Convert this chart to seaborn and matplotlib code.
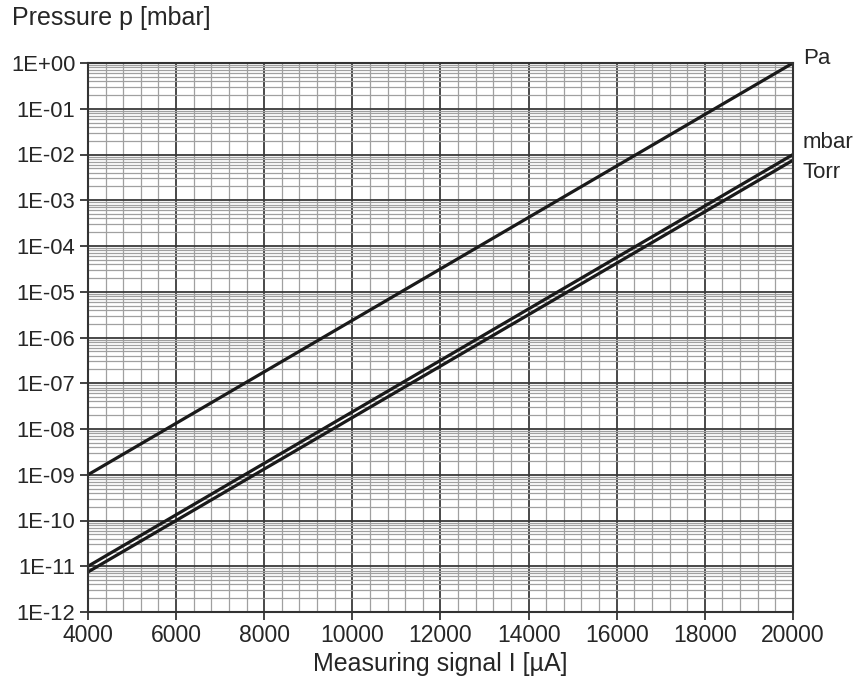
import matplotlib
matplotlib.use("Agg")
import matplotlib.pyplot as plt
import matplotlib.ticker as mticker
import numpy as np
import pandas as pd
import seaborn as sns

# Data
signal = [4000, 20000]
pa_values = [1e-9, 1e0]
mbar_values = [1e-11, 1e-2]
torr_values = [7.5e-12, 7.5e-3]
series_names = ["Pa", "mbar", "Torr"]
x_ticks = [4000, 6000, 8000, 10000, 12000, 14000, 16000, 18000, 20000]
y_tick_labels = ["1E-12", "1E-11", "1E-10", "1E-09", "1E-08", "1E-07", "1E-06",
                 "1E-05", "1E-04", "1E-03", "1E-02", "1E-01", "1E+00"]

df = pd.DataFrame({
    "signal": signal * 3,
    "pressure": pa_values + mbar_values + torr_values,
    "unit": [series_names[0]] * 2 + [series_names[1]] * 2 + [series_names[2]] * 2,
})

sns.set_style("white")
plt.rcParams['font.family'] = ['Liberation Sans', 'DejaVu Sans']

fig = plt.figure(figsize=(8.54, 6.8), dpi=100)
ax = fig.add_axes([88 / 854, 1 - 612 / 680, (793 - 88) / 854, (612 - 63) / 680])

ax.set_yscale("log")
ax.set_xlim(4000, 20000)
ax.set_ylim(1e-12, 1e0)

# grid
ax.set_xticks(x_ticks)
ax.xaxis.set_minor_locator(mticker.MultipleLocator(400))
ax.yaxis.set_minor_locator(mticker.LogLocator(base=10, subs=np.arange(2, 10), numticks=200))
ax.yaxis.set_minor_formatter(mticker.NullFormatter())
ax.set_yticks([10.0 ** e for e in range(-12, 1)])
ax.set_yticklabels(y_tick_labels)
ax.set_xticklabels([str(v) for v in x_ticks])

ax.grid(which="major", color="#3a3a3a", linewidth=1.3)
ax.grid(which="minor", color="#a0a0a0", linewidth=0.9)
ax.set_axisbelow(True)

for name in series_names:
    sub = df[df["unit"] == name]
    sns.lineplot(data=sub, x="signal", y="pressure", ax=ax, color="#1a1a1a",
                 linewidth=2.3, legend=False, solid_capstyle="butt")

for spine in ax.spines.values():
    spine.set_color("#333333")
    spine.set_linewidth(1.5)

ax.tick_params(axis="x", which="major", labelsize=16.5)
ax.tick_params(axis="y", which="major", labelsize=15.8)
ax.tick_params(axis="both", which="major", direction="out", length=6, width=1.3,
               color="#333333", pad=3, bottom=True, left=True)
ax.tick_params(axis="both", which="minor", length=0)

ax.set_xlabel("Measuring signal I [µA]", fontsize=18, labelpad=3)
ax.set_ylabel("")

fig.text(12 / 854, 1 - 18 / 680, "Pressure p [mbar]", fontsize=18, va="center", ha="left")

# series labels at right
label_y = {"Pa": 1e0, "mbar": 1e-2, "Torr": 7.5e-3}
offsets = {"Pa": 3.6, "mbar": 9, "Torr": -9}
for name in series_names:
    ax.annotate(name, xy=(20000, label_y[name]), xytext=(7, offsets[name]),
                textcoords="offset points", fontsize=16, ha="left", va="center",
                annotation_clip=False)

fig.savefig("out.png", dpi=100)
